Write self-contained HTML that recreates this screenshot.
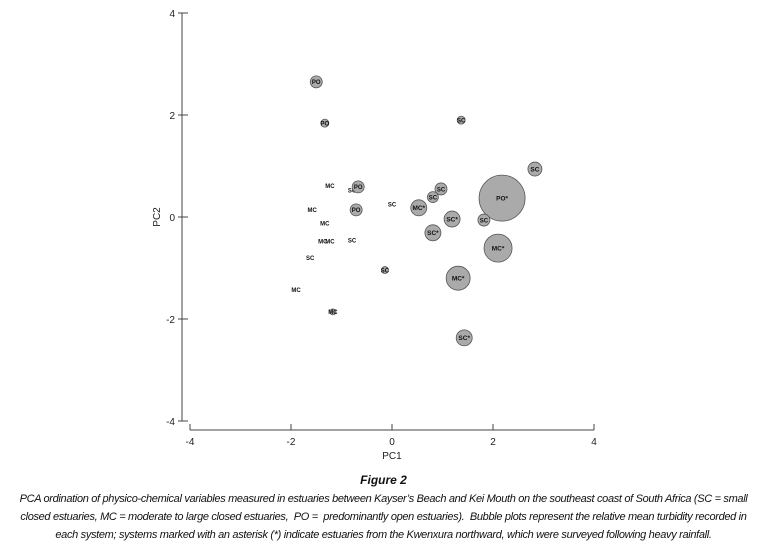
<!DOCTYPE html>
<html><head><meta charset="utf-8"><style>
body{margin:0;background:#fff;width:767px;height:554px;overflow:hidden;font-family:"Liberation Sans",sans-serif}
svg{position:absolute;left:0;top:0}
.cap{position:absolute;left:0;width:767px;text-align:center;font-style:italic;font-size:11px;color:#111;white-space:nowrap;letter-spacing:-0.33px}
</style></head><body>
<svg width="767" height="470" id="chart"></svg>
<div class="cap" style="top:473px;font-weight:bold;font-size:12px;letter-spacing:0">Figure 2</div>
<div class="cap" style="top:490px;line-height:18px">PCA ordination of physico-chemical variables measured in estuaries between Kayser’s Beach and Kei Mouth on the southeast coast of South Africa (SC = small<br>closed estuaries, MC = moderate to large closed estuaries,&nbsp; PO =&nbsp; predominantly open estuaries).&nbsp; Bubble plots represent the relative mean turbidity recorded in<br>each system; systems marked with an asterisk (*) indicate estuaries from the Kwenxura northward, which were surveyed following heavy rainfall.</div>
<script>
const labels=["PO","PO","SC","SC","MC","SC","PO","SC","SC","SC","MC*","PO*","SC*","SC","SC*","MC*","MC*","SC*","MC","PO","MC","MC","MC","SC","SC","SC","MC","MC"];
const pc1=[-1.50,-1.33,1.37,2.83,-1.23,-0.79,-0.67,0,0.97,0.81,0.53,2.18,1.19,1.82,0.81,2.10,1.31,1.43,-1.58,-0.71,-1.33,-1.37,-1.23,-0.79,-1.62,-0.14,-1.90,-1.17];
const pc2=[2.65,1.84,1.90,0.94,0.61,0.53,0.59,0.25,0.55,0.39,0.18,0.37,-0.04,-0.06,-0.31,-0.61,-1.20,-2.37,0.14,0.14,-0.12,-0.47,-0.47,-0.45,-0.80,-1.04,-1.43,-1.86];
const turbidity=[36,16,16,49,4,4,36,4,36,30,64,529,64,36,64,196,144,64,4,36,4,4,4,4,4,12,4,9];
const xTicks=[-4,-2,0,2,4];
const yTicks=[4,2,0,-2,-4];
const NS="http://www.w3.org/2000/svg";
const svg=document.getElementById('chart');
const X=v=>392+v*50.5, Y=v=>217-v*51, R=t=>Math.sqrt(t);
function el(t,a,p){const e=document.createElementNS(NS,t);for(const k in a)e.setAttribute(k,a[k]);(p||svg).appendChild(e);return e;}
const ax=el('line',{x1:X(-4),x2:X(4),y1:430,y2:430,stroke:'#444'});


const ay=el('line',{x1:182,x2:182,y1:Y(4),y2:Y(-4),stroke:'#444'});


xTicks.forEach(v=>{
 el('line',{x1:X(v),x2:X(v),y1:424,y2:430,stroke:'#444'});
 const t=el('text',{x:X(v),y:445,'text-anchor':'middle','font-size':10,fill:'#222'});t.textContent=v;
 
 
});
yTicks.forEach(v=>{
 el('line',{x1:178,x2:188,y1:Y(v),y2:Y(v),stroke:'#444'});
 const t=el('text',{x:175,y:Y(v)+4,'text-anchor':'end','font-size':10,fill:'#222'});t.textContent=v;
 
 
});
const xt=el('text',{x:392,y:459,'text-anchor':'middle','font-size':10,fill:'#222'});xt.textContent='PC1';


const yt=el('text',{x:0,y:0,'text-anchor':'middle','font-size':10,fill:'#222',transform:'translate(160,217) rotate(-90)'});yt.textContent='PC2';


labels.forEach((l,i)=>{
 const g=el('g',{});
 
 
 const r=R(turbidity[i]);
 if(r>2.5) el('circle',{cx:X(pc1[i]),cy:Y(pc2[i]),r:r,fill:'#aaa',stroke:'#555','stroke-width':0.8},g);
 const t=el('text',{x:X(pc1[i]),y:Y(pc2[i])+2.3,'text-anchor':'middle','font-size':r>6?6.5:6,'font-weight':'bold',fill:'#111'},g);
 t.textContent=l;
});
</script>
</body></html>
